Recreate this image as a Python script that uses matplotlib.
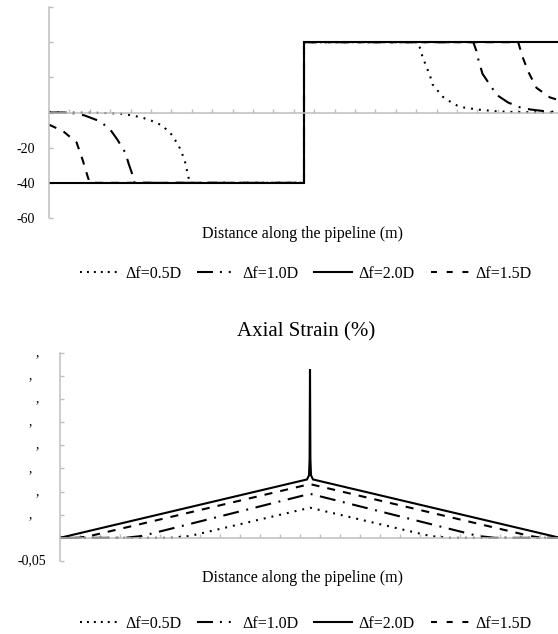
import numpy as np
import matplotlib
matplotlib.use("Agg")
import matplotlib.pyplot as plt
from matplotlib.lines import Line2D

plt.rcParams['font.family'] = ['Liberation Serif', 'DejaVu Serif']
plt.rcParams['lines.scale_dashes'] = False

# --- данные: верхний график (перемещения), x в м
x05_top = [0, 50, 70, 82, 92, 102, 111, 121, 128, 133, 136, 138, 250, 250,
           362, 366, 371, 374, 376, 386, 393, 400, 406, 420, 440, 462, 500]
y05_top = [0, -0.2, -0.6, -1.7, -3, -5, -7.4, -13, -20, -27, -35, -40, -40, 40,
           40, 32, 24.6, 20, 16, 9, 6.3, 4, 2.9, 1.7, 0.6, 0.2, 0]
x10_top = [0, 14, 25, 35, 50, 60, 67, 75, 78, 81, 84, 250, 250,
           416, 419, 421, 425, 432, 439, 450, 462, 472, 488, 500]
y10_top = [0, 0, -0.5, -1.7, -5, -9.7, -15.4, -23, -29, -34, -40, -40, 40,
           40, 35, 30, 22, 16, 10, 5.7, 2.9, 1.7, 0.6, 0.3]
x20_top = [0, 250, 250, 500]
y20_top = [-40, -40, 40, 40]
x15_top = [0, 14, 27, 33, 38, 40, 250, 250, 460, 464, 470, 478, 491, 500]
y15_top = [-6.9, -10.7, -17, -27, -36.6, -40, -40, 40, 40, 32, 23, 14, 8.6, 7]

# --- данные: нижний график (осевая деформация, %)
x05_bot = [0, 110, 130, 250, 370, 390, 500]
y05_bot = [0, 0, 0.004, 0.065, 0.004, 0, 0]
x10_bot = [0, 65, 82, 250, 418, 435, 500]
y10_bot = [0, 0, 0.004, 0.095, 0.004, 0, 0]
x20_bot = [0, 247, 249, 249.6, 250, 250.4, 251, 253, 500]
y20_bot = [0, 0.126, 0.135, 0.17, 0.364, 0.17, 0.135, 0.126, 0]
x15_bot = [0, 18, 30, 250, 470, 482, 500]
y15_bot = [0, 0, 0.004, 0.116, 0.004, 0, 0]

labels = ['Δf=0.5D', 'Δf=1.0D', 'Δf=2.0D', 'Δf=1.5D']
top_ticks = [-60, -40, -20, 0, 20, 40, 60]
top_ticklabels = ['-60', '-40', '-20', '', '', '', '']
bot_ticks = [-0.05, 0, 0.05, 0.1, 0.15, 0.2, 0.25, 0.3, 0.35, 0.4]
bot_ticklabels = ['-0,05', '', ',', ',', ',', ',', ',', ',', ',', ',']
xlab = 'Distance along the pipeline (m)'

dash_styles = [(0, (1.4, 4.3)), (0, (11.5, 5.5, 1.4, 5.5)), None, (0, (5.8, 5.8))]
leg_dashes = [(0, (1.4, 3.6)), (0, (11.5, 5.0, 1.4, 5.0, 1.4, 5.0)), None, (0, (4.3, 7.0))]
gray = '#BFBFBF'
lw = 1.5


def style_axes(ax, ylim, yticks):
    ax.set_xlim(0, 500)
    ax.set_ylim(*ylim)
    ax.spines['top'].set_visible(False)
    ax.spines['right'].set_visible(False)
    ax.spines['bottom'].set_position(('data', 0))
    for s in ('left', 'bottom'):
        ax.spines[s].set_color(gray)
        ax.spines[s].set_linewidth(1.1)
    ax.set_xticks(np.arange(0, 501, 20))
    ax.set_yticks(yticks)
    ax.tick_params(axis='both', direction='in', length=3, width=1, color=gray)
    ax.tick_params(axis='x', labelbottom=False)
    ax.tick_params(axis='y', pad=10, labelsize=10)


def draw(ax, data):
    for (x, y), ds in zip(data, dash_styles):
        if ds is None:
            ax.plot(x, y, color='black', lw=lw, solid_joinstyle='miter')
        else:
            ax.plot(x, y, color='black', lw=lw, linestyle=ds)


def add_legend(y):
    hh = []
    for ds in leg_dashes:
        if ds is None:
            hh.append(Line2D([], [], color='black', lw=lw))
        else:
            hh.append(Line2D([], [], color='black', lw=lw, linestyle=ds))
    fig.legend(hh, labels, loc='center', bbox_to_anchor=(306 / 558, y), ncol=4,
               frameon=False, fontsize=11.5, handlelength=2.4, handletextpad=0.4,
               columnspacing=1.0)


fig = plt.figure(figsize=(5.58, 6.34), dpi=100)

# верхний график
ax1 = fig.add_axes([49 / 558, 1 - 218 / 634, 510 / 558, 211 / 634])
style_axes(ax1, (-60, 60), top_ticks)
ax1.set_yticklabels(top_ticklabels)
draw(ax1, [(x05_top, y05_top), (x10_top, y10_top), (x20_top, y20_top), (x15_top, y15_top)])
fig.text(302 / 558, 1 - 234 / 634, xlab, ha='center', va='center', fontsize=11.5)
add_legend(1 - 274 / 634)

# нижний график
ax2 = fig.add_axes([60 / 558, 1 - 561 / 634, 500 / 558, (561 - 352.5) / 634])
style_axes(ax2, (-0.05, 0.4), bot_ticks)
ax2.tick_params(axis='y', labelleft=False)
for val, lab in zip(bot_ticks, bot_ticklabels):
    # у подписей видна только запятая: сдвиг как у '0,4' / '0,35'
    ndig = 1 if lab == ',' and round(val * 100) % 10 == 0 else 2
    dx = 10 if lab != ',' else (10 + (5.0 if ndig == 1 else 10.0))
    ax2.annotate(lab, xy=(0, val), xycoords=ax2.get_yaxis_transform(),
                 xytext=(-dx, 0), textcoords='offset points',
                 ha='right', va='center', fontsize=10)
draw(ax2, [(x05_bot, y05_bot), (x10_bot, y10_bot), (x20_bot, y20_bot), (x15_bot, y15_bot)])
fig.text(306 / 558, 1 - 332 / 634, 'Axial Strain (%)', ha='center', va='center', fontsize=15)
fig.text(302 / 558, 1 - 578 / 634, xlab, ha='center', va='center', fontsize=11.5)
add_legend(1 - 624 / 634)

fig.savefig('out.png', dpi=100)
